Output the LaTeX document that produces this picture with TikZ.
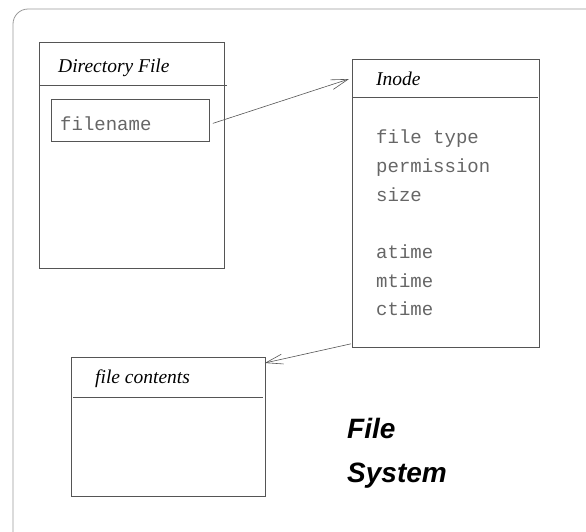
\documentclass[tikz,border=0pt]{standalone}
\usepackage{fontspec}
\setmainfont{Liberation Serif}
\setmonofont{Liberation Mono}
\setsansfont{Liberation Sans}
\usetikzlibrary{arrows.meta, positioning}

\definecolor{boxgray}{HTML}{555555}
\definecolor{framegray}{HTML}{999999}
\definecolor{fieldgray}{HTML}{666666}

\tikzset{
  box/.style={draw=boxgray, line width=0.8pt, rectangle, anchor=north west, inner sep=0pt},
  head/.style={anchor=base west, inner sep=0pt, font=\fontsize{19.5}{19.5}\selectfont\itshape},
  field/.style={anchor=base west, inner sep=0pt, text=fieldgray, font=\fontsize{19}{19}\selectfont\ttfamily},
  title/.style={anchor=base west, inner sep=0pt, font=\fontsize{28}{28}\selectfont\sffamily\bfseries\itshape},
  link/.style={draw=boxgray, line width=0.6pt, -{Straight Barb[length=17pt, width=10pt]}},
}

\begin{document}
\begin{tikzpicture}[x=1pt, y=-1pt]
    \useasboundingbox (0,0) rectangle (586,531);
    \clip (0,0) rectangle (586,531);

    % Outline
    \draw[framegray, line width=0.8pt, rounded corners=15pt] (13,9) rectangle (602,547);

    % Box for directory file
    \node[box, minimum width=185pt, minimum height=226pt] (dir) at (39,42) {};
    \draw[boxgray, line width=0.8pt] (39,85) -- (227,85);
    \node[head] (dirhead) at (58,72) {Directory File};

    % Box for filename
    \node[box, minimum width=158pt, minimum height=42pt] (fname) at (51,99) {};
    \node[field] (fnametext) at (60,130) {filename};

    % Box for inode
    \node[box, minimum width=187pt, minimum height=288pt] (inode) at (352,59) {};
    \draw[boxgray, line width=0.8pt] (353,97) -- (538,97);
    \node[head] (inodehead) at (376,85) {Inode};
    \node[field] (ftype) at (376,143) {file type};
    \node[field] (perm) at (376,172) {permission};
    \node[field] (size) at (376,201) {size};
    \node[field] (atime) at (376,258) {atime};
    \node[field] (mtime) at (376,287) {mtime};
    \node[field] (ctime) at (376,315) {ctime};

    % Box for file contents
    \node[box, minimum width=194pt, minimum height=139pt] (fcont) at (71,357) {};
    \draw[boxgray, line width=0.8pt] (73,397) -- (263,397);
    \node[head] (fconthead) at (95,383) {file contents};

    % Title
    \node[title] (titleA) at (347,438) {File};
    \node[title] (titleB) at (347,482) {System};

    % Arrows
    \draw[link] ([xshift=3pt, yshift=-3pt]fname.east) -- ([xshift=-3pt, yshift=-20pt]inode.north west);
    \draw[link] ([xshift=-1pt, yshift=4pt]inode.south west) -- ([xshift=-1pt, yshift=-6pt]fcont.north east);
\end{tikzpicture}
\end{document}
